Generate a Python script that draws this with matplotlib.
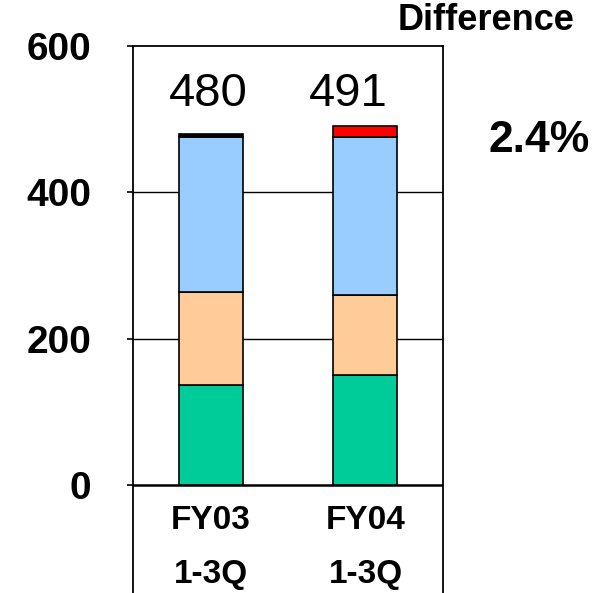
import numpy as np
import matplotlib.pyplot as plt

# datos
categorias = ['FY03\n1-3Q', 'FY04\n1-3Q']
verde = [137, 150]
naranja = [126, 109]
azul = [213, 217]
extra = [4, 15]
totales = [480, 491]
diferencia = '2.4%'

colores = ['#00CC99', '#FFCC99', '#99CCFF']
color_extra = ['#000000', '#FF0000']

plt.rcParams['font.family'] = ['Liberation Sans', 'DejaVu Sans']

fig = plt.figure(figsize=(6.1, 5.93), dpi=100)
ax = fig.add_axes([133 / 610, 0, 310 / 610, 1 - 46 / 593])

x = np.arange(len(categorias))
ancho = 0.414

# gridlines y linea del cero
for v in [200, 400]:
    ax.axhline(v, color='black', lw=1.0, zorder=1)
ax.axhline(0, color='black', lw=1.8, zorder=1)

abajo = np.zeros(len(x))
for serie, col in zip([verde, naranja, azul], colores):
    ax.bar(x, serie, ancho, bottom=abajo, color=col, edgecolor='black', lw=1.2, zorder=2)
    abajo += np.array(serie)
ax.bar(x, extra, ancho, bottom=abajo, color=color_extra, edgecolor='black', lw=1.2, zorder=2)

# totales arriba de las barras
desfase = [-0.02, -0.11]
for i, t in enumerate(totales):
    ax.text(x[i] + desfase[i], 518, str(t), ha='center', va='baseline', fontsize=34)

# etiquetas de categoria debajo
for i, c in enumerate(categorias):
    l1, l2 = c.split('\n')
    ax.text(x[i], -49, l1, ha='center', va='center', fontsize=24, fontweight='bold')
    ax.text(x[i], -123, l2, ha='center', va='center', fontsize=24, fontweight='bold')

ax.set_xlim(-0.505, 1.502)
ax.set_ylim(-148, 600)
ax.set_yticks([0, 200, 400, 600])
ax.set_yticklabels(['0', '200', '400', '600'], fontsize=28, fontweight='bold')
ax.tick_params(axis='y', length=4, width=1.2, pad=26)
ax.set_xticks([])
ax.spines['bottom'].set_visible(False)
for s in ['left', 'right', 'top']:
    ax.spines[s].set_linewidth(1.3)

fig.text(486 / 610, 1 - 20 / 593, 'Difference', ha='center', va='center',
         fontsize=26, fontweight='bold')
fig.text(539 / 610, 1 - 141 / 593, diferencia, ha='center', va='center',
         fontsize=32, fontweight='bold')

fig.savefig('out.png', dpi=100)
